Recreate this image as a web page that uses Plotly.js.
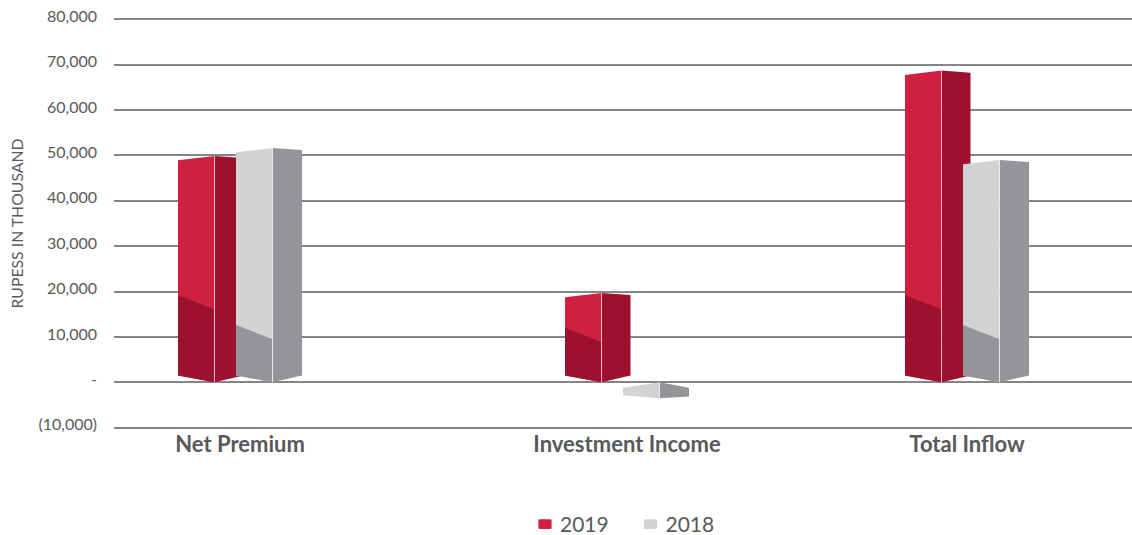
<!DOCTYPE html>
<html>
<head>
<meta charset="utf-8">
<script src="https://cdn.plot.ly/plotly-3.0.1.min.js"></script>
<style>
html,body{margin:0;padding:0;background:#fff}
#chart{width:1132px;height:535px}
.legend{transform:translate(520px,504px)}
.legendpoints path.scatterpts{stroke-linejoin:round;transform:translate(25px,0) scale(1.1,0.8)}
</style>
</head>
<body>
<div id="chart"></div>
<script>
const categories = ["Net Premium", "Investment Income", "Total Inflow"];
const values2019 = [49900, 19700, 68700];
const values2018 = [51650, -3500, 49000];
const shade2019 = [16100, 8900, 16100];
const shade2018 = [9500, null, 9500];
const yTickVals = [80000, 70000, 60000, 50000, 40000, 30000, 20000, 10000, 0, -10000];
const yTickText = ["80,000", "70,000", "60,000", "50,000", "40,000", "30,000", "20,000", "10,000", "-", "(10,000)"];

// Layout of the groups on a horizontal axis measured in page units
const groupCentres = [240, 627, 967];
const ink = "#58595b";
const styles = {
  s2019: {name: "2019", light: "#d02040", dark: "#9e112e", edge: "rgba(255,235,240,0.75)", dx: [-62, -25.5, 3.5]},
  s2018: {name: "2018", light: "#d1d3d4", dark: "#939598", edge: "rgba(255,255,255,0.7)", dx: [-4, 32.5, 62]}
};

function poly(xs, ys, color) {
  return {type: "scatter", mode: "lines", x: xs.concat(xs[0]), y: ys.concat(ys[0]), fill: "toself",
    fillcolor: color, line: {width: 0, color: color}, hoverinfo: "skip", showlegend: false};
}

function barFaces(c, v, shade, st) {
  const [l, m, r] = st.dx.map(d => c + d);
  const out = [];
  const neg = v < 0;
  const topL = neg ? -1200 : v - 950, topR = neg ? -1200 : v - 450;
  const botL = neg ? v + 650 : 1500, botR = neg ? v + 350 : 1500;
  const hi = neg ? 0 : v, lo = neg ? v : 0;
  out.push(poly([l, m, m, l], [topL, hi, lo, botL], st.light));
  if (shade !== null) {
    out.push(poly([l, m, m, l], [shade + 3100, shade, lo, botL], st.dark));
  }
  out.push(poly([m, r, r, m], [hi, topR, botR, lo], st.dark));
  out.push({type: "scatter", mode: "lines", x: [m, m], y: [hi, lo], line: {width: 1, color: st.edge},
    hoverinfo: "skip", showlegend: false});
  return out;
}

const traces = [];
groupCentres.forEach((c, i) => {
  traces.push(...barFaces(c, values2019[i], shade2019[i], styles.s2019));
  traces.push(...barFaces(c, values2018[i], shade2018[i], styles.s2018));
});
[styles.s2019, styles.s2018].forEach(st => {
  traces.push({type: "scatter", mode: "markers", x: [null], y: [null], name: st.name, hoverinfo: "skip",
    marker: {symbol: "square", size: 9, color: st.light, line: {width: 3, color: st.light}}});
});

const layout = {
  width: 1132, height: 535,
  margin: {l: 114, r: 0, t: 18.3, b: 105.6, pad: 0},
  paper_bgcolor: "#fff", plot_bgcolor: "#fff",
  font: {family: "Lato, sans-serif", color: ink},
  xaxis: {
    type: "linear", range: [114, 1132], tickmode: "array", tickvals: groupCentres, ticktext: categories,
    showgrid: false, zeroline: false, showline: false, ticks: "", ticklabelstandoff: 0,
    tickfont: {family: "Lato, sans-serif", size: 22, weight: 700, color: ink}
  },
  yaxis: {
    range: [-10300, 80300], tickmode: "array", tickvals: yTickVals, ticktext: yTickText,
    showgrid: true, gridcolor: "#858585", gridwidth: 2, zeroline: true, zerolinecolor: "#858585", zerolinewidth: 2,
    showline: false, ticks: "", ticklabelstandoff: 16, ticklabelshift: -3,
    tickfont: {family: "Lato, sans-serif", size: 16, color: ink},
    title: {text: "RUPESS IN THOUSAND", standoff: 10, font: {family: "Lato, sans-serif", size: 15.8, color: ink}}
  },
  showlegend: true,
  legend: {orientation: "h", x: 0.395, xanchor: "left", y: -0.15, yanchor: "middle", entrywidth: 60.5, entrywidthmode: "pixels",
    font: {family: "Lato, sans-serif", size: 21, color: ink}, bgcolor: "rgba(0,0,0,0)"}
};

Plotly.newPlot("chart", traces, layout, {displayModeBar: false, responsive: false});
</script>
</body>
</html>
